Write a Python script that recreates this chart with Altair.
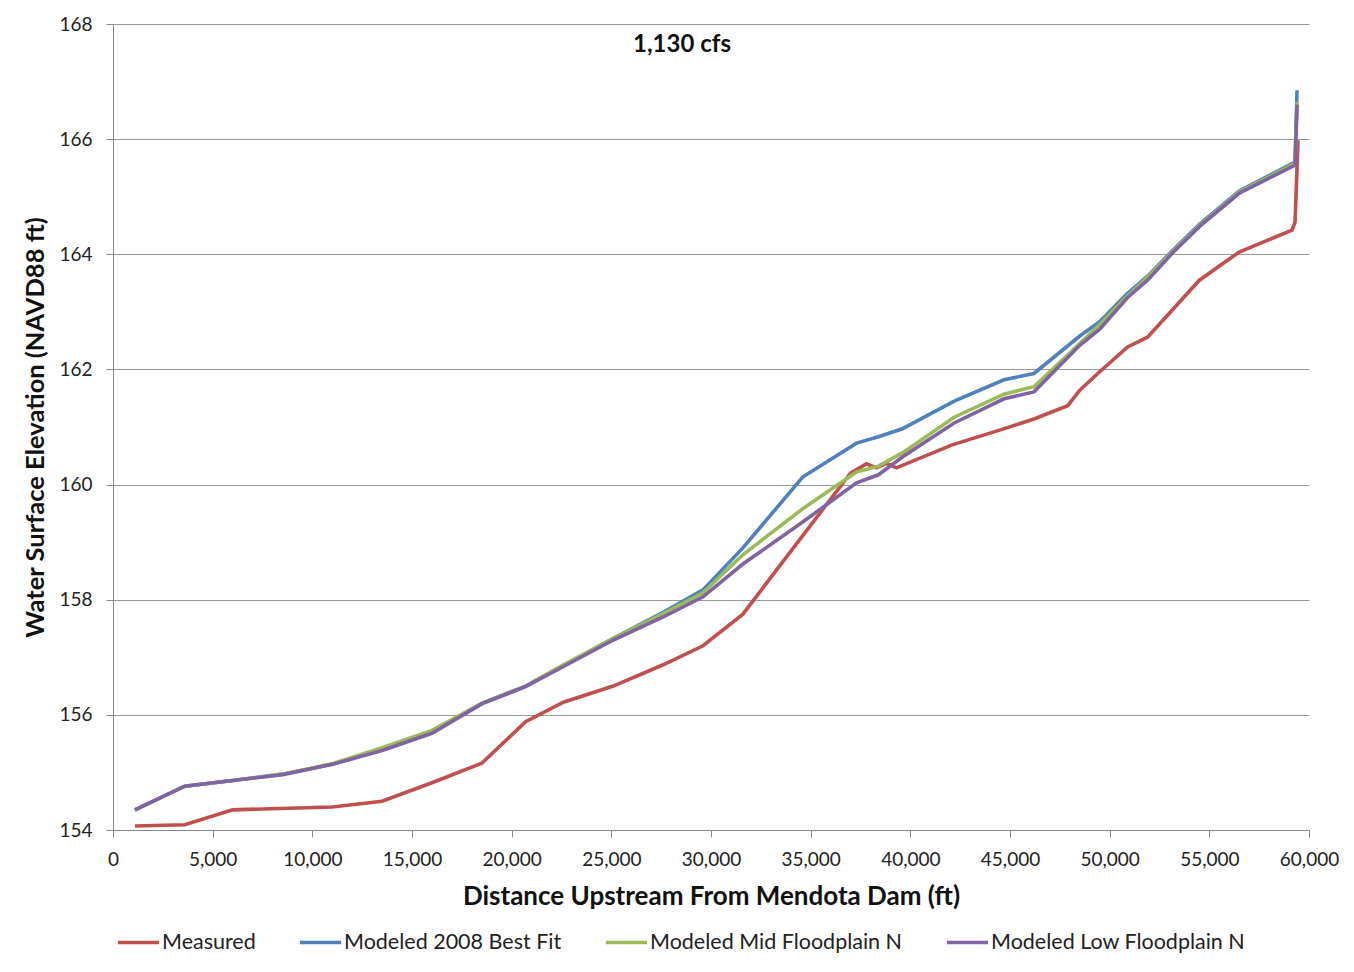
import altair as alt
import pandas as pd

# ---- data ----
meas_x = [1100, 3600, 6000, 11000, 13500, 16000, 18500, 20700, 22600, 25100, 27600, 29600,
          31600, 37000, 37800, 38300, 38800, 39300, 42100, 44800, 46200, 47900, 48500, 49500,
          50900, 51900, 54500, 56500, 59150, 59300, 59450]
meas_y = [154.07, 154.09, 154.35, 154.40, 154.50, 154.82, 155.16, 155.88, 156.22, 156.50, 156.87, 157.20,
          157.75, 160.20, 160.36, 160.29, 160.37, 160.29, 160.69, 160.98, 161.14, 161.37, 161.64, 161.96,
          162.39, 162.56, 163.55, 164.04, 164.42, 164.56, 165.98]

mod_x = [1100, 3600, 6000, 8500, 11000, 13500, 16000, 18500, 20700, 22600, 25100, 27600, 29600,
         31600, 34600, 37300, 38400, 39600, 42200, 44700, 46200, 48500, 49500, 50900, 51900,
         53200, 54500, 56500, 59300, 59400]
best_y = [154.35, 154.76, 154.86, 154.97, 155.14, 155.40, 155.70, 156.20, 156.50, 156.86, 157.33, 157.78, 158.17,
          158.90, 160.13, 160.72, 160.83, 160.97, 161.45, 161.82, 161.93, 162.58, 162.83, 163.32, 163.62,
          164.08, 164.52, 165.10, 165.60, 166.85]
mid_y = [154.35, 154.76, 154.86, 154.97, 155.15, 155.43, 155.73, 156.20, 156.50, 156.87, 157.33, 157.76, 158.12,
         158.78, 159.58, 160.22, 160.32, 160.55, 161.17, 161.57, 161.70, 162.45, 162.78, 163.28, 163.60,
         164.06, 164.50, 165.08, 165.58, 166.65]
low_y = [154.35, 154.76, 154.86, 154.96, 155.14, 155.38, 155.68, 156.19, 156.49, 156.84, 157.30, 157.70, 158.05,
         158.62, 159.35, 160.03, 160.17, 160.48, 161.07, 161.49, 161.61, 162.42, 162.70, 163.25, 163.55,
         164.04, 164.48, 165.06, 165.55, 166.60]

series = ["Measured", "Modeled 2008 Best Fit", "Modeled Mid Floodplain N", "Modeled Low Floodplain N"]
colors = ["#C0504D", "#4F81BD", "#9BBB59", "#8064A2"]
x_ticks = list(range(0, 60001, 5000))
y_ticks = list(range(154, 169, 2))

rows = []
for s, xs, ys in [(series[0], meas_x, meas_y), (series[1], mod_x, best_y),
                  (series[2], mod_x, mid_y), (series[3], mod_x, low_y)]:
    for i, (a, b) in enumerate(zip(xs, ys)):
        rows.append({"series": s, "x": a, "y": b, "i": i})
df = pd.DataFrame(rows)

FONT = "Lato"

xenc = alt.X("x:Q", scale=alt.Scale(domain=[0, 60000], nice=False),
             axis=alt.Axis(values=x_ticks, format=",.0f", title="Distance Upstream From Mendota Dam (ft)",
                           grid=False, tickSize=7, labelPadding=13, titlePadding=14,
                           labelFlush=False, labelOverlap=False, titleFontSize=26))
yenc = alt.Y("y:Q", scale=alt.Scale(domain=[154, 168], nice=False, zero=False),
             axis=alt.Axis(values=y_ticks, title="Water Surface Elevation (NAVD88 ft)",
                           grid=True, tickSize=7, labelPadding=14, titlePadding=10,
                           labelFlush=False, labelOverlap=False))
cenc = alt.Color("series:N", scale=alt.Scale(domain=series, range=colors),
                 legend=alt.Legend(title=None, orient="none", direction="horizontal",
                                   legendX=3, legendY=896, symbolType="stroke",
                                   symbolSize=1700, symbolStrokeWidth=3.5, labelFontSize=21.5,
                                   labelFont=FONT, columnPadding=36, labelOffset=1,
                                   labelLimit=0, labelColor="#222", padding=0))

layers = []
for s in series:
    layers.append(
        alt.Chart(df).transform_filter(alt.datum.series == s)
        .mark_line(strokeWidth=3.6)
        .encode(x=xenc, y=yenc, color=cenc, order="i:Q")
    )

chart = alt.layer(*layers).properties(
    width=1196, height=806,
    title=alt.TitleParams("1,130 cfs", fontSize=24, fontWeight="bold", font=FONT,
                          anchor="middle", dx=-29, offset=-42, color="#111"),
    autosize=alt.AutoSizeParams(type="none"),
    padding={"left": 105, "top": 16, "right": 30, "bottom": 140},
).configure_view(stroke=None).configure_axis(
    labelFont=FONT, titleFont=FONT, labelFontSize=19, titleFontSize=25.5,
    titleFontWeight="bold", labelColor="#222", titleColor="#111",
    domainColor="#888", tickColor="#888", gridColor="#999", gridWidth=1.2,
)

chart.save("out.html", embed_options={"renderer": "svg", "actions": False})
